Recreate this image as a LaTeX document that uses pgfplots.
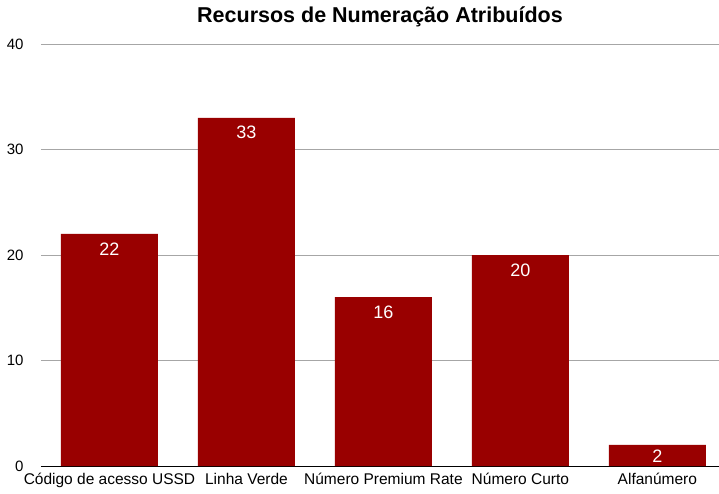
\documentclass[border=0pt]{standalone}
\usepackage{pgfplots}
\pgfplotsset{compat=1.18}
\usepackage{fontspec}
\setmainfont{Liberation Sans}
\definecolor{barred}{HTML}{990000}
\definecolor{gridgray}{HTML}{A6A6A6}
\begin{document}
\begin{tikzpicture}
\useasboundingbox (-41pt,-27pt) rectangle (678pt,466pt);
\begin{axis}[
  at={(0,0)}, anchor=south west,
  scale only axis, width=678pt, height=422pt,
  ybar, bar width=97pt,
  xmin=-0.5, xmax=4.45,
  ymin=0, ymax=40,
  ytick={0,10,20,30,40},
  xtick={0,1,2,3,4},
  xticklabels={Código de acesso USSD, Linha Verde, Número Premium Rate, Número Curto, Alfanúmero},
  axis x line*=bottom, axis y line*=left,
  x axis line style={black, line width=0.8pt, -},
  y axis line style={draw=none},
  major tick length=0pt,
  ymajorgrids=true, grid style={gridgray, line width=0.6pt},
  yticklabel style={font=\fontsize{15}{18}\selectfont, anchor=east, xshift=-14pt},
  xticklabel style={font=\fontsize{15.5}{18}\selectfont, yshift=-4pt},
  /pgf/number format/assume math mode=true,
  title={\bfseries Recursos de Numeração Atribuídos},
  title style={font=\fontsize{21.5}{24}\selectfont, yshift=8pt},
  nodes near coords,
  every node near coord/.append style={font=\fontsize{18}{20}\selectfont, text=white, anchor=north, yshift=-5pt},
  coordinate style/.condition={x==4}{yshift=4pt},
  clip=false,
]
\addplot[fill=barred, draw=none] coordinates {(0,22) (1,33) (2,16) (3,20) (4,2)};
\end{axis}
\end{tikzpicture}
\end{document}
